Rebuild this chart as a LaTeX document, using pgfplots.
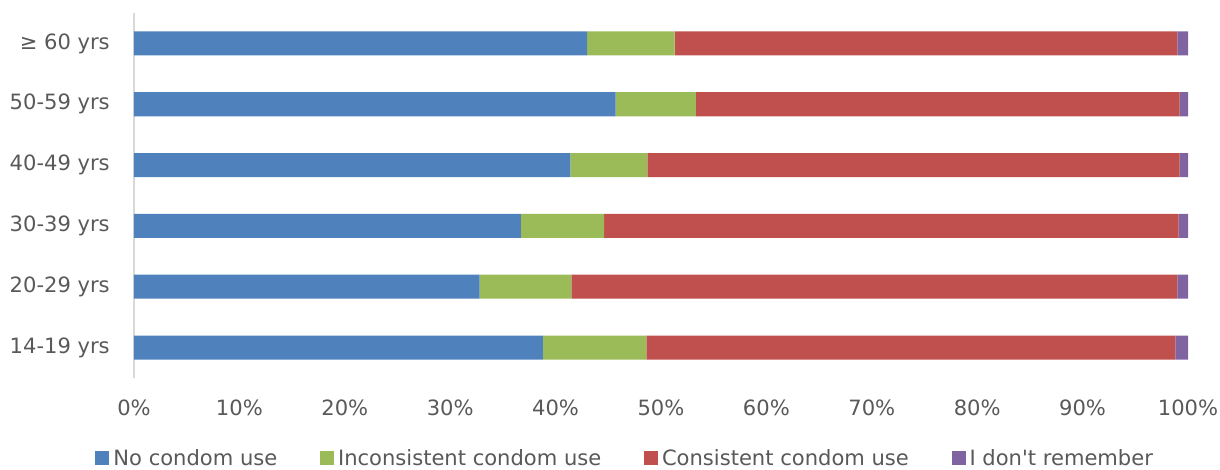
\documentclass[border=0pt]{standalone}
\usepackage{pgfplots}
\pgfplotsset{compat=1.18}
\usepackage{fontspec}
\setmainfont{DejaVu Sans}[Ligatures=TeXOff]
\definecolor{cBlue}{HTML}{4F81BD}
\definecolor{cGreen}{HTML}{9BBB59}
\definecolor{cRed}{HTML}{C0504D}
\definecolor{cPurple}{HTML}{8064A2}
\definecolor{cText}{HTML}{595959}
\definecolor{cAxis}{HTML}{D9D9D9}
\begin{document}
\begin{tikzpicture}
\begin{axis}[
  xbar stacked,
  scale only axis=true,
  width=790.5pt, height=273.75pt,
  bar width=18pt,
  xmin=0, xmax=100,
  ymin=-0.5, ymax=5.5,
  ytick={0,1,2,3,4,5},
  yticklabels={14-19 yrs,20-29 yrs,30-39 yrs,40-49 yrs,50-59 yrs,{≥ 60 yrs}},
  xtick={0,10,...,100},
  xticklabel={\pgfmathprintnumber{\tick}\%},
  /pgf/number format/assume math mode=true,
  major tick length=0pt,
  separate axis lines,
  axis y line*=left,
  axis x line*=bottom,
  y axis line style={draw=cAxis, line width=1pt},
  x axis line style={draw=none},
  tick style={draw=none},
  ticklabel style={font=\fontsize{15.8pt}{18pt}\selectfont, text=cText},
  yticklabel style={anchor=east, inner sep=0pt, xshift=-18pt},
  xticklabel style={anchor=north, inner sep=0pt, yshift=-16pt},
  legend columns=4,
  legend style={draw=none, at={(0.467,0)}, anchor=center, yshift=-60pt,
    font=\fontsize{15.8pt}{18pt}\selectfont, text=cText,
    /tikz/every even column/.append style={column sep=29pt},
    nodes={inner xsep=3pt, inner ysep=0pt}},
  legend image code/.code={\fill[#1] (0pt,-5.25pt) rectangle (10.5pt,5.25pt);},
  clip=false,
]
\addplot[fill=cBlue, draw=none] coordinates {(38.8,0) (32.8,1) (36.7,2) (41.4,3) (45.7,4) (43.0,5)};
\addplot[fill=cGreen, draw=none] coordinates {(9.8,0) (8.7,1) (7.9,2) (7.3,3) (7.6,4) (8.3,5)};
\addplot[fill=cRed, draw=none] coordinates {(50.2,0) (57.5,1) (54.5,2) (50.5,3) (45.9,4) (47.7,5)};
\addplot[fill=cPurple, draw=none] coordinates {(1.2,0) (1.0,1) (0.9,2) (0.8,3) (0.8,4) (1.0,5)};
\legend{No condom use, Inconsistent condom use, Consistent condom use, I don't remember}
\coordinate (SW) at (rel axis cs:0,0);
\coordinate (NE) at (rel axis cs:1,1);
\end{axis}
\pgfresetboundingbox
\path[use as bounding box] ([xshift=-100.5pt,yshift=-69pt]SW) rectangle ([xshift=24pt,yshift=9.75pt]NE);
\end{tikzpicture}
\end{document}
